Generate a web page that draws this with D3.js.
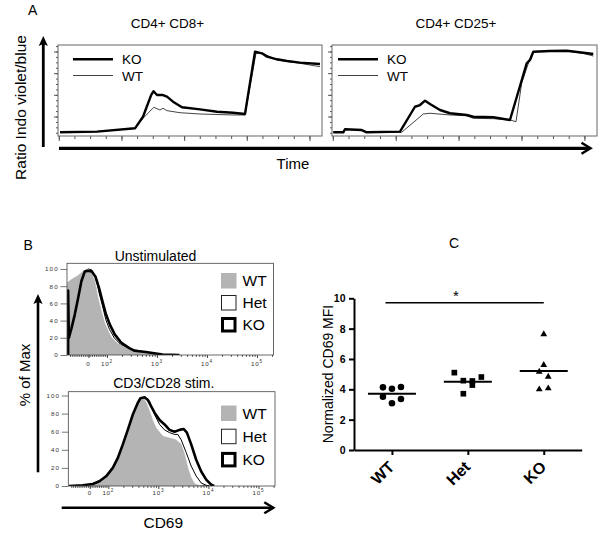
<!DOCTYPE html>
<html><head><meta charset="utf-8">
<script src="https://cdn.jsdelivr.net/npm/d3@7"></script>
<style>body{margin:0;background:#fff}svg{display:block;font-family:"Liberation Sans",Arial,Helvetica,sans-serif}</style>
</head><body><svg id="c" width="600" height="539"></svg>
<script>
// ================= DATA =================
// Panel A: calcium flux (time in s, ratio Indo violet/blue)
const panelATitles = ["CD4+ CD8+", "CD4+ CD25+"];
const fluxSeries = ["KO", "WT"];
const cd8KO = [[1.6,0.454],[48.8,0.46],[97.3,0.491],[107.5,0.598],[118,0.8],[121,0.833],[125.4,0.798],[133,0.798],[138.1,0.783],[145.8,0.737],[154.7,0.697],[157.3,0.685],[180.3,0.666],[202,0.644],[222.4,0.635],[237.7,0.623],[250.5,1.198],[259.4,1.183],[265.8,1.152],[278.5,1.128],[291.3,1.112],[307.9,1.097],[333.4,1.085]];
const cd8WT = [[1.6,0.454],[48.8,0.46],[97.3,0.491],[107.5,0.583],[121.3,0.685],[129.2,0.66],[133,0.676],[138.1,0.654],[154.7,0.635],[180.3,0.623],[222.4,0.614],[237.7,0.614],[251.7,1.183],[260.7,1.183],[278.5,1.122],[307.9,1.091],[333.4,1.06]];
const cd25KO = [[0.6,0.454],[13.4,0.454],[15.5,0.482],[36.8,0.475],[43.1,0.454],[85.5,0.46],[104.5,0.69],[110.9,0.706],[117.3,0.746],[123.6,0.715],[136.3,0.66],[149,0.63],[170.3,0.614],[178.7,0.598],[204.1,0.593],[225.3,0.568],[246.6,1.091],[250.8,1.122],[255,1.198],[276.2,1.205],[297.5,1.207],[318.6,1.189],[331.3,1.177]];
const cd25WT = [[0.6,0.454],[13.4,0.454],[15.5,0.482],[36.8,0.475],[43.1,0.454],[87.6,0.454],[115.1,0.623],[123.6,0.63],[149,0.614],[170.3,0.607],[178.7,0.583],[204.1,0.58],[225.3,0.568],[233,0.552],[240.2,0.906],[250.8,1.137],[255,1.198],[297.5,1.205],[318.6,1.183],[331.3,1.158]];
const timeTicks = d3.range(0, 321, 20);
const timeMajorTicks = [0, 80, 160, 240, 320];
const ratioMinorTicks = d3.range(0.45, 1.2501, 0.05);
const ratioTicks = [0.6, 0.8, 1.0, 1.2];

// Panel B: CD69 histograms [CD69 intensity, % of max]
const histTitles = ["Unstimulated", "CD3/CD28 stim."];
const histSeries = ["WT", "Het", "KO"];
const unstimWT = [[-115,0],[-115,84],[-90,88],[-60,92],[-30,97],[-10,100],[5,99],[12,97],[34,86],[52,66],[70,51],[88,37],[106,28],[123,20],[167,13],[265,7.3],[570,3.5],[1230,0.3],[2240,0]];
const unstimHet = [[-112,0],[-112,68],[-95,76],[-70,84],[-45,92],[-20,98],[0,100],[18,99],[40,89],[58,72],[76,57],[94,41],[112,30],[140,20],[190,12],[280,7.3],[600,3.5],[1300,0.4],[2800,0]];
const unstimKO = [[-110,0],[-110,75],[-106,20],[-92,31],[-74,47],[-56,66],[-38,86],[-20,97],[-2,98],[18,97],[38,91],[57,78],[76,62],[95,47],[115,35],[143,24],[195,14],[280,8],[350,5],[600,3.5],[1300,0.5],[2800,0]];
const stimWT = [[-112,0],[-74,0.4],[-2,1.4],[34,2.5],[52,3.9],[88,9],[123,18],[155,29],[195,43],[245,60],[309,77],[389,90],[453,95],[506,97],[570,92],[667,83],[776,72],[904,64],[1230,55],[1670,53],[2240,51],[2860,46],[3340,35],[3890,20],[4530,9],[5300,2.5],[6600,0.5],[7500,0]];
const stimHet = [[-112,0],[-38,0.6],[16,2],[52,4.8],[88,10],[123,19],[155,30],[195,45],[245,61],[309,78],[389,91],[440,97],[530,98],[600,96],[667,94],[839,79],[1060,68],[1330,62],[1670,59],[2110,57],[2450,57],[2860,51],[3600,37],[4530,22],[5700,11],[7180,3.3],[9040,0.8],[10500,0]];
const stimKO = [[-112,0],[-38,0.8],[16,2.2],[52,5.2],[88,10.7],[123,20],[155,31],[195,46],[245,62],[309,79],[389,92],[440,97],[530,98],[617,95],[718,88],[839,81],[1060,73],[1330,68],[1670,62],[2110,60],[2650,62],[3190,63],[3720,59],[4530,46],[5700,29],[7180,16],[9040,7],[11400,1.4],[13000,0]];
const pctTicks = [0, 20, 40, 60, 80, 100];
const cd69Ticks = [0, 100, 1000, 10000, 100000];
const cd69TickLabels = [["0",""],["10","2"],["10","3"],["10","4"],["10","5"]];
const cd69MinorTicks = d3.range(-100, 100, 10).concat([2,3,4,5,6,7,8,9].flatMap(m => [m*100, m*1000, m*10000])).concat([200000]);

// Panel C: normalized CD69 MFI
const categories = ["WT", "Het", "KO"];
const mfiWT = [4.13, 3.51, 4.04, 3.08, 4.15, 3.36];
const mfiHet = [5.10, 3.71, 4.57, 4.55, 4.28, 4.81];
const mfiKO = [5.16, 4.00, 4.83, 4.06, 5.60, 7.63];
const mfiTicks = [0, 2, 4, 6, 8, 10];
const sigFrom = "WT", sigTo = "KO", sigLevel = 9.7, sigLabel = "*";

// ================= DRAWING =================
const svg = d3.select("#c");

function txt(x, y, s, size, opts = {}) {
  const t = svg.append("text").attr("x", x).attr("y", y).text(s)
    .attr("font-size", size).attr("fill", opts.fill || "#000")
    .attr("text-anchor", opts.anchor || "start");
  if (opts.weight) t.attr("font-weight", opts.weight);
  if (opts.rotate) t.attr("transform", `rotate(${opts.rotate},${x},${y})`);
  return t;
}
function arrowUp(x, tip, bottom, w) {
  svg.append("line").attr("x1", x).attr("x2", x).attr("y1", bottom).attr("y2", tip + 6)
    .attr("stroke", "#000").attr("stroke-width", w);
  svg.append("path").attr("d", `M${x},${tip} L${x-4.6},${tip+10} L${x},${tip+8} L${x+4.6},${tip+10} Z`).attr("fill", "#000");
}
function arrowRight(x0, tip, y, w) {
  svg.append("line").attr("x1", x0).attr("x2", tip - 2).attr("y1", y).attr("y2", y)
    .attr("stroke", "#000").attr("stroke-width", w);
  svg.append("polyline").attr("points", `${tip-9},${y-5.5} ${tip},${y} ${tip-9},${y+5.5}`)
    .attr("fill", "none").attr("stroke", "#000").attr("stroke-width", 2.5);
}
function styleAxis(g, color) {
  g.select(".domain").remove();
  g.selectAll("line").attr("stroke", color);
}

// ---------- Panel A ----------
txt(28, 15, "A", 14);
function fluxPanel(x0, x1, titleX, title, ko, wt, legX) {
  const x = d3.scaleLinear().domain([-1, 336]).range([x0, x1]);
  const y = d3.scaleLinear().domain([0.42, 1.26]).range([136, 45]);
  const tickColor = "#555";
  svg.append("g").attr("transform", `translate(${x0},0)`)
    .call(d3.axisLeft(y).tickValues(ratioMinorTicks).tickSize(2).tickFormat(""))
    .call(g => styleAxis(g, tickColor));
  svg.append("g").attr("transform", `translate(${x0},0)`)
    .call(d3.axisLeft(y).tickValues(ratioTicks).tickSize(4).tickFormat(""))
    .call(g => styleAxis(g, tickColor));
  svg.append("g").attr("transform", `translate(0,136)`)
    .call(d3.axisBottom(x).tickValues(timeTicks).tickSize(3).tickFormat(""))
    .call(g => styleAxis(g, tickColor));
  svg.append("g").attr("transform", `translate(0,136)`)
    .call(d3.axisBottom(x).tickValues(timeMajorTicks).tickSize(5).tickFormat(""))
    .call(g => styleAxis(g, tickColor));
  svg.append("rect").attr("x", x0).attr("y", 45).attr("width", x1 - x0).attr("height", 91)
    .attr("fill", "none").attr("stroke", "#666").attr("stroke-width", 1);
  const line = d3.line().x(d => x(d[0])).y(d => y(d[1]));
  svg.append("path").attr("d", line(wt)).attr("fill", "none").attr("stroke", "#444").attr("stroke-width", 1);
  svg.append("path").attr("d", line(ko)).attr("fill", "none").attr("stroke", "#000").attr("stroke-width", 2.4).attr("stroke-linejoin", "round");
  txt(titleX, 28, title, 13.5, { anchor: "middle" });
  // legend
  svg.append("line").attr("x1", legX).attr("x2", legX + 40).attr("y1", 59.3).attr("y2", 59.3).attr("stroke", "#000").attr("stroke-width", 2.6);
  svg.append("line").attr("x1", legX).attr("x2", legX + 40).attr("y1", 75.5).attr("y2", 75.5).attr("stroke", "#444").attr("stroke-width", 1);
  txt(legX + 49, 64, fluxSeries[0], 13.5);
  txt(legX + 49, 81, fluxSeries[1], 13.5);
}
fluxPanel(58, 322, 167.5, panelATitles[0], cd8KO, cd8WT, 73);
fluxPanel(332, 597, 456, panelATitles[1], cd25KO, cd25WT, 338);
arrowUp(43.3, 36, 147, 2.8);
arrowRight(59, 590.5, 148.3, 3.2);
txt(293, 168.5, "Time", 15, { anchor: "middle" });
txt(25.5, 107.5, "Ratio Indo violet/blue", 15.5, { anchor: "middle", rotate: -90 });

// ---------- Panel B ----------
txt(23.5, 250, "B", 14);
function biex(v) { return v <= 100 ? v / 100 * 0.37 : 0.37 + Math.log10(v / 100); }
function histPanel(cfg) {
  const x = d3.scaleLinear().domain([biex(-116), biex(2.14e5)]).range([cfg.x0, cfg.x1]);
  const y = d3.scaleLinear().domain([0, 100]).range([cfg.y0, cfg.y100]);
  const clipId = "clip" + cfg.id;
  svg.append("clipPath").attr("id", clipId).append("rect")
    .attr("x", cfg.x0).attr("y", cfg.top).attr("width", cfg.x1 - cfg.x0).attr("height", cfg.y0 - cfg.top);
  const area = d3.area().x(d => x(biex(d[0]))).y0(y(0)).y1(d => y(d[1]));
  const line = d3.line().x(d => x(biex(d[0]))).y(d => y(d[1]));
  const g = svg.append("g").attr("clip-path", `url(#${clipId})`);
  g.append("path").attr("d", area(cfg.het)).attr("fill", "#fff").attr("stroke", "#000").attr("stroke-width", 1);
  g.append("path").attr("d", area(cfg.wt)).attr("fill", "#b4b4b4").attr("stroke", "#b4b4b4").attr("stroke-width", 0.6);
  g.append("path").attr("d", line(cfg.ko)).attr("fill", "none").attr("stroke", "#000").attr("stroke-width", 2.6).attr("stroke-linejoin", "round");
  svg.append("rect").attr("x", cfg.x0).attr("y", cfg.top).attr("width", cfg.x1 - cfg.x0).attr("height", cfg.y0 - cfg.top)
    .attr("fill", "none").attr("stroke", "#444").attr("stroke-width", 0.8);
  // y axis
  const ya = svg.append("g").attr("transform", `translate(${cfg.x0},0)`)
    .call(d3.axisLeft(y).tickValues(pctTicks).tickSize(6.5).tickPadding(1.8));
  ya.select(".domain").remove();
  ya.selectAll("line").attr("stroke", "#555").attr("stroke-width", 0.8);
  ya.selectAll("text").attr("font-size", 6.2).attr("letter-spacing", 1.1).attr("fill", "#333")
    .attr("font-family", '"Liberation Sans", Arial, sans-serif');
  // x ticks
  const xa = svg.append("g").attr("transform", `translate(0,${cfg.y0})`)
    .call(d3.axisBottom(x).tickValues(cd69MinorTicks.map(biex)).tickSize(1.8).tickFormat(""));
  styleAxis(xa, "#444");
  const xb = svg.append("g").attr("transform", `translate(0,${cfg.y0})`)
    .call(d3.axisBottom(x).tickValues(cd69Ticks.map(biex)).tickSize(3).tickFormat(""));
  styleAxis(xb, "#444");
  cd69Ticks.forEach((v, i) => {
    const t = svg.append("text").attr("x", x(biex(v))).attr("y", cfg.labelY)
      .attr("text-anchor", "middle").attr("font-size", 6.2).attr("letter-spacing", 0.8).attr("fill", "#333")
      .text(cd69TickLabels[i][0]);
    if (cd69TickLabels[i][1]) t.append("tspan").attr("dy", -3).attr("font-size", 4.6).text(cd69TickLabels[i][1]);
  });
  txt(cfg.titleX, cfg.titleY, cfg.title, 14, { anchor: "middle" });
  // legend
  const styles = [
    { fill: "#b4b4b4", stroke: "none", sw: 0 },
    { fill: "#fff", stroke: "#222", sw: 1 },
    { fill: "#fff", stroke: "#000", sw: 3 }
  ];
  histSeries.forEach((name, i) => {
    const yy = cfg.legTop + i * cfg.legStep;
    const s = styles[i];
    const inset = s.sw / 2;
    svg.append("rect").attr("x", 221 + inset).attr("y", yy + inset).attr("width", 15.5 - s.sw).attr("height", 15.5 - s.sw)
      .attr("fill", s.fill).attr("stroke", s.stroke).attr("stroke-width", s.sw);
    txt(242.5, yy + 13.3, name, 15.5);
  });
}
histPanel({ id: "u", x0: 67, x1: 273.5, top: 263.3, y0: 355, y100: 269, labelY: 365.5,
  title: histTitles[0], titleX: 155.5, titleY: 260.5, wt: unstimWT, het: unstimHet, ko: unstimKO, legTop: 273, legStep: 22 });
histPanel({ id: "s", x0: 68.3, x1: 275, top: 391.7, y0: 486, y100: 395.5, labelY: 494.5,
  title: histTitles[1], titleX: 163.8, titleY: 388.3, wt: stimWT, het: stimHet, ko: stimKO, legTop: 405.5, legStep: 23.2 });
arrowUp(38, 294, 472.3, 2.6);
arrowRight(61.7, 273.3, 507.8, 2.6);
txt(163.3, 527.7, "CD69", 15.5, { anchor: "middle" });
txt(30, 375, "% of Max", 15, { anchor: "middle", rotate: -90 });

// ---------- Panel C ----------
txt(449, 248, "C", 14);
const yC = d3.scaleLinear().domain([0, 10]).range([450, 298.3]);
const xC = d3.scalePoint().domain(categories).range([354, 581.7]).padding(0.5);
const ya = svg.append("g").attr("transform", "translate(354,0)")
  .call(d3.axisLeft(yC).tickValues(mfiTicks).tickSize(5).tickSizeOuter(0).tickPadding(3.5));
ya.select(".domain").attr("stroke-width", 2);
ya.selectAll("line").attr("stroke-width", 2);
ya.selectAll("text").attr("font-size", 10.5).attr("font-weight", "bold")
  .attr("font-family", '"Liberation Sans", Arial, sans-serif');
const xa = svg.append("g").attr("transform", "translate(0,450)")
  .call(d3.axisBottom(xC).tickSize(5).tickSizeOuter(0));
xa.select(".domain").attr("stroke-width", 2);
xa.selectAll("line").attr("stroke-width", 2);
xa.selectAll("text").attr("font-size", 16).attr("font-weight", "bold")
  .attr("font-family", '"Liberation Sans", Arial, sans-serif')
  .attr("x", 0).attr("y", 0).attr("dy", "0.35em")
  .attr("text-anchor", "end").attr("transform", "translate(-1,14) rotate(-45)");
txt(333, 374, "Normalized CD69 MFI", 14, { anchor: "middle", rotate: -90 });

function rowOffsets(values, step, thresh) {
  const idx = d3.range(values.length).sort((a, b) => values[a] - values[b]);
  const rows = []; let cur = null;
  idx.forEach(i => {
    const py = yC(values[i]);
    if (!cur || Math.abs(py - cur.y0) > thresh) { cur = { y0: py, items: [] }; rows.push(cur); }
    cur.items.push(i);
  });
  const off = new Array(values.length);
  rows.forEach(r => { r.items.sort((a, b) => a - b); const n = r.items.length; r.items.forEach((i, k) => off[i] = (k - (n - 1) / 2) * step); });
  return off;
}
const groups = [
  { cat: categories[0], vals: mfiWT, sym: d3.symbolCircle, size: 34 },
  { cat: categories[1], vals: mfiHet, sym: d3.symbolSquare, size: 32 },
  { cat: categories[2], vals: mfiKO, sym: d3.symbolTriangle, size: 20 }
];
groups.forEach(gp => {
  const off = rowOffsets(gp.vals, 9, 10);
  const cx = xC(gp.cat);
  svg.append("g").selectAll("path").data(gp.vals).join("path")
    .attr("d", d3.symbol(gp.sym, gp.size))
    .attr("transform", (d, i) => `translate(${cx + off[i]},${yC(d)})`)
    .attr("fill", "#000");
  const m = d3.mean(gp.vals);
  svg.append("line").attr("x1", cx - 24).attr("x2", cx + 24).attr("y1", yC(m)).attr("y2", yC(m))
    .attr("stroke", "#000").attr("stroke-width", 2);
});
svg.append("line").attr("x1", xC(sigFrom) - 6.5).attr("x2", xC(sigTo)).attr("y1", yC(sigLevel)).attr("y2", yC(sigLevel))
  .attr("stroke", "#000").attr("stroke-width", 1.5);
txt((xC(sigFrom) + xC(sigTo)) / 2 - 12, 300.5, sigLabel, 15, { anchor: "middle" });
</script></body></html>
